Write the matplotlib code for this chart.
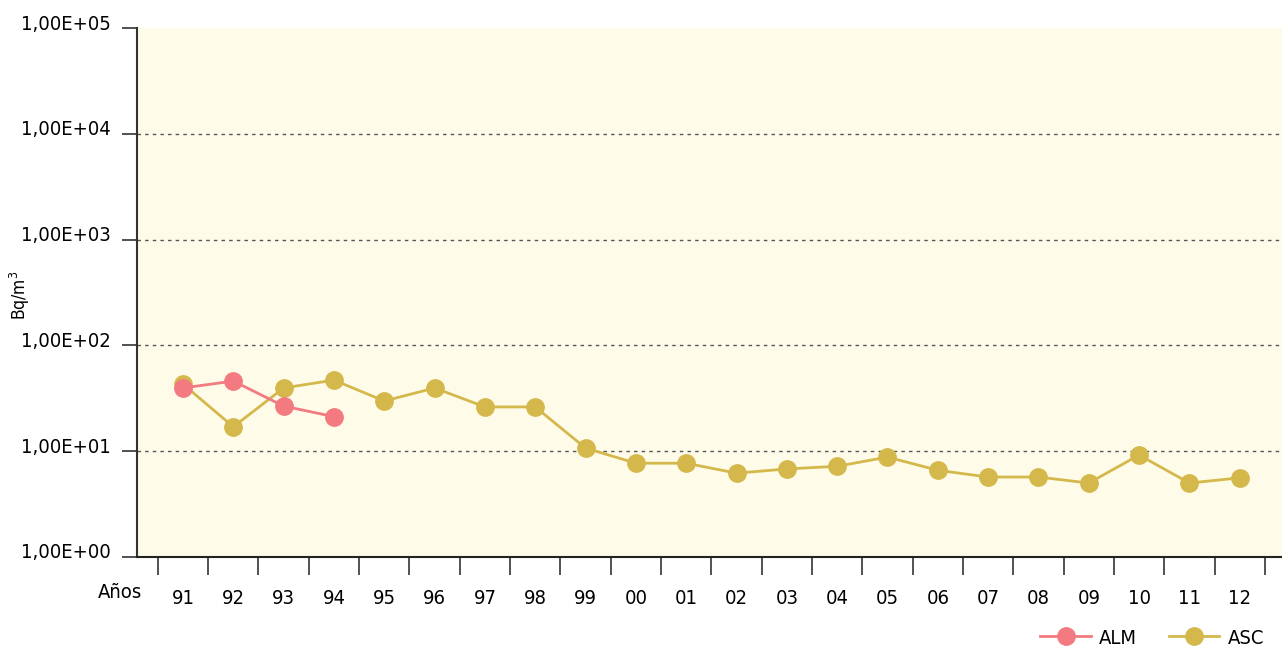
import matplotlib.pyplot as plt
import matplotlib.transforms as mtransforms
import numpy as np
from matplotlib.ticker import FixedLocator, FuncFormatter, NullLocator

plt.rcParams['font.family'] = ['Liberation Sans Narrow', 'DejaVu Sans']
plt.rcParams['font.stretch'] = 'condensed'

years = ['91', '92', '93', '94', '95', '96', '97', '98', '99', '00', '01',
         '02', '03', '04', '05', '06', '07', '08', '09', '10', '11', '12']
asc = [43, 17, 39.6, 47, 29.8, 39.6, 26.2, 26.2, 10.7, 7.7, 7.7,
       6.2, 6.8, 7.2, 8.8, 6.6, 5.7, 5.7, 5.0, 9.2, 5.0, 5.6]
alm = [39.6, 46, 26.7, 21.2]

c_alm = '#F27A80'
c_asc = '#D4B84C'

fig = plt.figure(figsize=(12.82, 6.5), dpi=100)
ax = fig.add_axes([137/1282, 93/650, 1 - 137/1282, (557-28)/650])
ax.set_facecolor('#FEFCE8')

x = np.arange(len(years))
ax.plot(x, asc, color=c_asc, lw=2, marker='o', ms=12.5, label='ASC', zorder=3)
ax.plot(x[:len(alm)], alm, color=c_alm, lw=2, marker='o', ms=12.5, label='ALM', zorder=4)

ax.set_yscale('log')
ax.set_ylim(1, 1e5)
ax.set_xlim(-0.914, 21.84)

ax.yaxis.set_major_locator(FixedLocator([1, 10, 100, 1e3, 1e4, 1e5]))
ax.yaxis.set_minor_locator(NullLocator())
ax.yaxis.set_major_formatter(FuncFormatter(lambda v, p: ('%.2E' % v).replace('.', ',')))
ax.tick_params(axis='y', length=11, width=1.2, color='#333333', labelsize=14.5, pad=8)
for yv in [10, 100, 1e3, 1e4]:
    ax.axhline(yv, color='#555555', lw=1, ls=(0, (2.5, 3)), zorder=1)

ax.set_xticks(list(x - 0.5) + [21.5])
ax.set_xticklabels([''] * 23)
ax.set_xticks(x, minor=True)
ax.set_xticklabels(years, minor=True)
ax.tick_params(axis='x', which='major', length=13, width=1.2, color='#333333')
ax.tick_params(axis='x', which='minor', length=0, labelsize=14.5, pad=23)

# y labels sit slightly above their tick
off = mtransforms.ScaledTranslation(0, 6/100, fig.dpi_scale_trans)
for lab in ax.get_yticklabels():
    lab.set_transform(lab.get_transform() + off)

for s in ['top', 'right']:
    ax.spines[s].set_visible(False)
ax.spines['left'].set_color('#333333')
ax.spines['left'].set_linewidth(1.5)
ax.spines['bottom'].set_color('#222222')
ax.spines['bottom'].set_linewidth(1.5)

fig.text(20/1282, 1 - 295/650, 'Bq/m$^3$', rotation=90, ha='center', va='center', fontsize=12.5)
fig.text(120/1282, 1 - 593/650, 'Años', ha='center', va='center', fontsize=14.5)

h, l = ax.get_legend_handles_labels()
fig.legend(h[::-1], l[::-1], loc='center right', bbox_to_anchor=(1.0, 12/650), ncol=2,
           frameon=False, fontsize=14.5, handlelength=2.5, columnspacing=1.6, handletextpad=0.4)

fig.savefig('out.png', dpi=100)
